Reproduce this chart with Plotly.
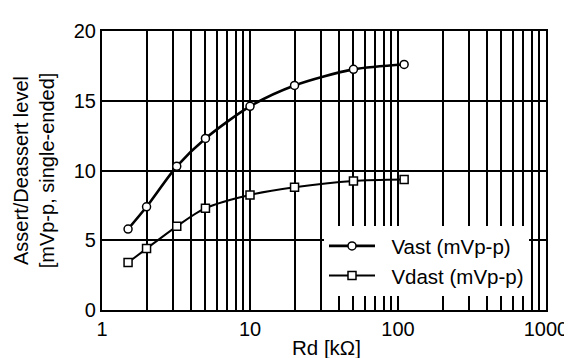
import plotly.graph_objects as go

rd_kohm = [1.5, 2, 3.2, 5, 10, 20, 50, 110]
vast = [5.8, 7.4, 10.3, 12.3, 14.6, 16.1, 17.25, 17.6]
vdast = [3.4, 4.4, 6.0, 7.3, 8.25, 8.8, 9.25, 9.35]

x_grid_vals = [1, 2, 3, 4, 5, 6, 7, 8, 9,
               10, 20, 30, 40, 50, 60, 70, 80, 90,
               100, 200, 300, 400, 500, 600, 700, 800, 900, 1000]
x_tick_text = ["1" if v == 1 else "10" if v == 10 else "100" if v == 100 else "1000" if v == 1000 else "" for v in x_grid_vals]
y_tick_vals = [0, 5, 10, 15, 20]

FONT = "Liberation Sans, Arial, Helvetica, sans-serif"
NB = "\u00a0\u00a0"

fig = go.Figure()
fig.add_trace(go.Scatter(
    x=rd_kohm, y=vast, name=NB + "Vast (mVp-p)", mode="lines+markers",
    line=dict(color="black", width=2.6, shape="spline", smoothing=0.8),
    marker=dict(symbol="circle", size=8, color="white", line=dict(color="black", width=1.5)),
))
fig.add_trace(go.Scatter(
    x=rd_kohm, y=vdast, name=NB + "Vdast (mVp-p)", mode="lines+markers",
    line=dict(color="black", width=2.0, shape="spline", smoothing=0.8),
    marker=dict(symbol="square", size=8, color="white", line=dict(color="black", width=1.5)),
))

fig.update_layout(
    width=572, height=358,
    margin=dict(l=93, r=30, t=15, b=56),
    paper_bgcolor="white", plot_bgcolor="white",
    font=dict(family=FONT, size=20, color="black"),
    showlegend=True,
    legend=dict(
        x=0.50, y=0.05, xanchor="left", yanchor="bottom",
        bgcolor="white", borderwidth=0,
        font=dict(family=FONT, size=20.5, color="black"),
        itemwidth=46, tracegroupgap=0,
    ),
    xaxis=dict(
        type="log", range=[0, 3],
        tickvals=x_grid_vals, ticktext=x_tick_text,
        showgrid=True, gridcolor="black", gridwidth=1.5,
        showline=True, linecolor="black", linewidth=2.2, mirror=True,
        ticks="", tickfont=dict(family=FONT, size=20),
        zeroline=False,
    ),
    yaxis=dict(
        range=[0, 20], tickvals=y_tick_vals,
        showgrid=True, gridcolor="black", gridwidth=1.5,
        showline=True, linecolor="black", linewidth=2.2, mirror=True,
        ticks="", tickfont=dict(family=FONT, size=20),
        title=dict(text="Assert/Deassert level<br>[mVp-p, single-ended]",
                   font=dict(family=FONT, size=20), standoff=14),
        zeroline=False,
    ),
    annotations=[dict(
        text="Rd [kΩ]", xref="paper", yref="paper", x=0.505, y=-0.135,
        xanchor="center", yanchor="middle", showarrow=False,
        font=dict(family=FONT, size=20.5, color="black"),
    )],
)

fig.write_html("out.html")
